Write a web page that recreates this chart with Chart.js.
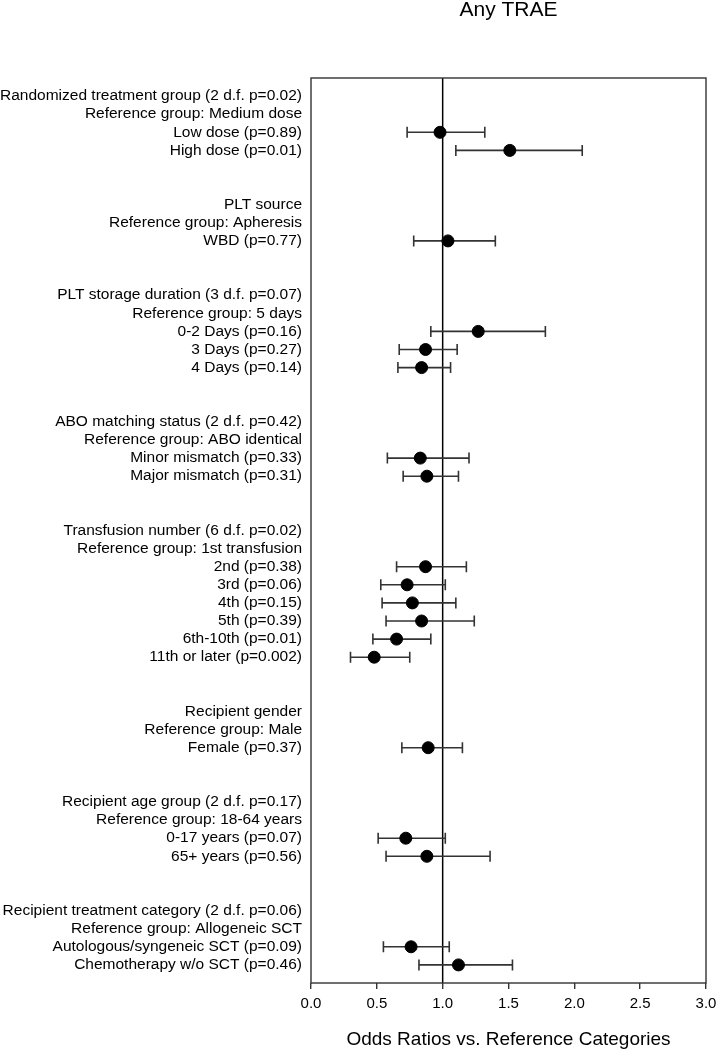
<!DOCTYPE html>
<html>
<head>
<meta charset="utf-8">
<script src="https://cdn.jsdelivr.net/npm/chart.js@4"></script>
<style>
  body { margin: 0; background: #fff; }
  canvas { display: block; }
</style>
</head>
<body>
<canvas id="forestChart" width="716" height="1050"></canvas>
<script>
// one entry per row, blanks are the gaps between groups
const rowLabels = [
  "Randomized treatment group (2 d.f. p=0.02)",
  "Reference group: Medium dose",
  "Low dose (p=0.89)",
  "High dose (p=0.01)",
  "", "",
  "PLT source",
  "Reference group: Apheresis",
  "WBD (p=0.77)",
  "", "",
  "PLT storage duration (3 d.f. p=0.07)",
  "Reference group: 5 days",
  "0-2 Days (p=0.16)",
  "3 Days (p=0.27)",
  "4 Days (p=0.14)",
  "", "",
  "ABO matching status (2 d.f. p=0.42)",
  "Reference group: ABO identical",
  "Minor mismatch (p=0.33)",
  "Major mismatch (p=0.31)",
  "", "",
  "Transfusion number (6 d.f. p=0.02)",
  "Reference group: 1st transfusion",
  "2nd (p=0.38)",
  "3rd (p=0.06)",
  "4th (p=0.15)",
  "5th (p=0.39)",
  "6th-10th (p=0.01)",
  "11th or later (p=0.002)",
  "", "",
  "Recipient gender",
  "Reference group: Male",
  "Female (p=0.37)",
  "", "",
  "Recipient age group (2 d.f. p=0.17)",
  "Reference group: 18-64 years",
  "0-17 years (p=0.07)",
  "65+ years (p=0.56)",
  "", "",
  "Recipient treatment category (2 d.f. p=0.06)",
  "Reference group: Allogeneic SCT",
  "Autologous/syngeneic SCT (p=0.09)",
  "Chemotherapy w/o SCT (p=0.46)"
];

// odds ratios and 95% CI, null where the row has no estimate
const oddsRatio = [
  null, null, 0.98, 1.51, null, null,
  null, null, 1.04, null, null,
  null, null, 1.27, 0.87, 0.84, null, null,
  null, null, 0.83, 0.88, null, null,
  null, null, 0.87, 0.73, 0.77, 0.84, 0.65, 0.48, null, null,
  null, null, 0.89, null, null,
  null, null, 0.72, 0.88, null, null,
  null, null, 0.76, 1.12
];
const ciLower = [
  null, null, 0.73, 1.10, null, null,
  null, null, 0.78, null, null,
  null, null, 0.91, 0.67, 0.66, null, null,
  null, null, 0.58, 0.70, null, null,
  null, null, 0.65, 0.53, 0.54, 0.57, 0.47, 0.30, null, null,
  null, null, 0.69, null, null,
  null, null, 0.51, 0.57, null, null,
  null, null, 0.55, 0.82
];
const ciUpper = [
  null, null, 1.32, 2.06, null, null,
  null, null, 1.40, null, null,
  null, null, 1.78, 1.11, 1.06, null, null,
  null, null, 1.20, 1.12, null, null,
  null, null, 1.18, 1.02, 1.10, 1.24, 0.91, 0.75, null, null,
  null, null, 1.15, null, null,
  null, null, 1.02, 1.36, null, null,
  null, null, 1.05, 1.53
];

const xTicks = [0, 0.5, 1.0, 1.5, 2.0, 2.5, 3.0];

const points = [];
oddsRatio.forEach((v, i) => {
  if (v !== null) points.push({ x: v, y: i });
});

const fontFamily = "'Liberation Sans', Arial, Helvetica, sans-serif";

const errorBars = {
  id: 'errorBars',
  beforeDatasetsDraw(chart) {
    const ctx = chart.ctx;
    const xs = chart.scales.x;
    const ys = chart.scales.y;
    const area = chart.chartArea;
    ctx.save();

    // reference line at OR = 1
    ctx.strokeStyle = '#000';
    ctx.lineWidth = 1.5;
    ctx.beginPath();
    ctx.moveTo(xs.getPixelForValue(1), area.top);
    ctx.lineTo(xs.getPixelForValue(1), area.bottom);
    ctx.stroke();

    ctx.strokeStyle = '#333';
    ctx.lineWidth = 1.6;
    oddsRatio.forEach((v, i) => {
      if (v === null) return;
      const y = ys.getPixelForValue(i);
      const x1 = xs.getPixelForValue(ciLower[i]);
      const x2 = xs.getPixelForValue(ciUpper[i]);
      ctx.beginPath();
      ctx.moveTo(x1, y);
      ctx.lineTo(x2, y);
      ctx.moveTo(x1, y - 5.5);
      ctx.lineTo(x1, y + 5.5);
      ctx.moveTo(x2, y - 5.5);
      ctx.lineTo(x2, y + 5.5);
      ctx.stroke();
    });
    ctx.restore();
  },
  afterDraw(chart) {
    const ctx = chart.ctx;
    const a = chart.chartArea;
    ctx.save();
    ctx.strokeStyle = '#333';
    ctx.lineWidth = 1.4;
    ctx.strokeRect(a.left, a.top, a.right - a.left, a.bottom - a.top);
    ctx.restore();
  }
};

new Chart(document.getElementById('forestChart').getContext('2d'), {
  type: 'scatter',
  data: {
    datasets: [{
      data: points,
      backgroundColor: '#000',
      borderColor: '#000',
      pointRadius: 6,
      pointHoverRadius: 6
    }]
  },
  options: {
    responsive: false,
    animation: false,
    layout: { padding: { top: 0, right: 10, bottom: 0, left: 0 } },
    plugins: {
      legend: { display: false },
      tooltip: { enabled: false },
      title: {
        display: true,
        text: 'Any TRAE',
        fullSize: false,
        color: '#000',
        font: { family: fontFamily, size: 21, weight: 'normal', lineHeight: 1.0 },
        padding: { top: 0, bottom: 57 }
      }
    },
    scales: {
      x: {
        type: 'linear',
        min: 0,
        max: 3,
        afterBuildTicks: scale => { scale.ticks = xTicks.map(v => ({ value: v })); },
        afterFit: scale => {
          scale.height = 67;
          scale.paddingRight = 0;
          scale.paddingLeft = 0;
        },
        border: { display: false },
        grid: {
          drawOnChartArea: false,
          tickLength: 6,
          tickColor: '#333',
          lineWidth: 1.4
        },
        ticks: {
          color: '#000',
          padding: 6,
          font: { family: fontFamily, size: 15 },
          callback: v => v.toFixed(1)
        },
        title: {
          display: true,
          text: 'Odds Ratios vs. Reference Categories',
          color: '#000',
          font: { family: fontFamily, size: 19, lineHeight: 1.1 },
          padding: { top: 0, bottom: 0 }
        }
      },
      y: {
        type: 'linear',
        reverse: true,
        min: -1,
        max: 49,
        afterBuildTicks: scale => { scale.ticks = rowLabels.map((_, i) => ({ value: i })); },
        afterFit: scale => { scale.width = 311; },
        border: { display: false },
        grid: { display: false, drawTicks: false },
        ticks: {
          autoSkip: false,
          color: '#000',
          padding: 9,
          font: { family: fontFamily, size: 15.5 },
          callback: v => rowLabels[v] || ''
        }
      }
    }
  },
  plugins: [errorBars]
});
</script>
</body>
</html>
